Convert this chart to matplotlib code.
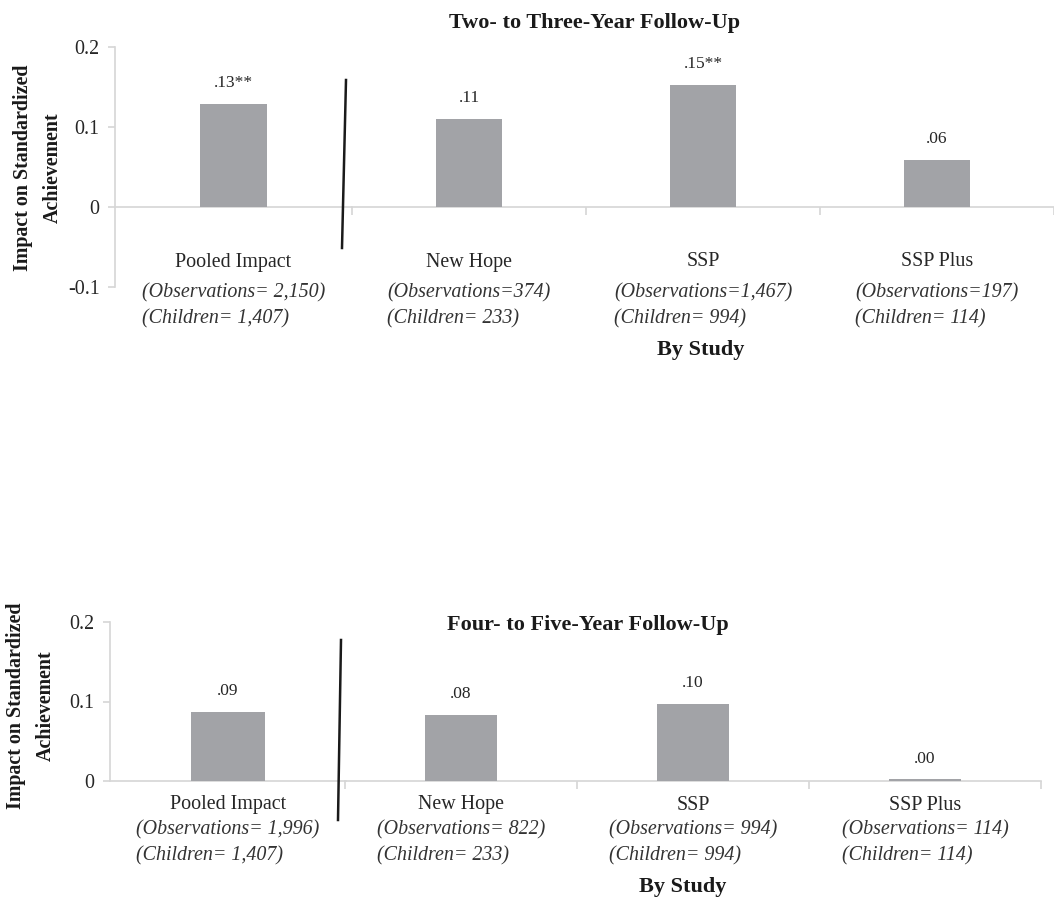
import matplotlib
matplotlib.use("Agg")
import matplotlib.pyplot as plt
from matplotlib.lines import Line2D
from matplotlib.transforms import blended_transform_factory

plt.rcParams['font.family'] = ['Liberation Serif', 'DejaVu Serif']
plt.rcParams['axes.unicode_minus'] = False

# data
categories = ["Pooled Impact", "New Hope", "SSP", "SSP Plus"]

top_values = [0.129, 0.110, 0.153, 0.059]
top_labels = [".13**", ".11", ".15**", ".06"]
top_obs = ["(Observations= 2,150)", "(Observations=374)", "(Observations=1,467)", "(Observations=197)"]
top_children = ["(Children= 1,407)", "(Children= 233)", "(Children= 994)", "(Children= 114)"]

bottom_values = [0.087, 0.083, 0.097, 0.002]
bottom_labels = [".09", ".08", ".10", ".00"]
bottom_obs = ["(Observations= 1,996)", "(Observations= 822)", "(Observations= 994)", "(Observations= 114)"]
bottom_children = ["(Children= 1,407)", "(Children= 233)", "(Children= 994)", "(Children= 114)"]

top_yticks = [-0.1, 0, 0.1, 0.2]
top_yticklabels = ["-0.1", "0", "0.1", "0.2"]
bottom_yticks = [0, 0.1, 0.2]
bottom_yticklabels = ["0", "0.1", "0.2"]

W, H = 1054, 899
BAR = "#a2a3a7"
AXC = "#d6d6d6"
TXT = "#262626"

fig = plt.figure(figsize=(W / 100, H / 100), dpi=100)


def rect(x0, x1, y0, y1):
    # pixel box -> figure fraction
    return [x0 / W, 1 - y1 / H, (x1 - x0) / W, (y1 - y0) / H]


def draw_panel(box_left, box_right, ylim, yticks, yticklabels, values, labels,
               obs, children, bar_w, right_xmax, y_name, y_obs, title, title_xy,
               study_xy, ylabel_xy, divider):
    axl = fig.add_axes(box_left)
    axr = fig.add_axes(box_right)
    for ax in (axl, axr):
        ax.set_ylim(*ylim)
        for s in ("top", "right"):
            ax.spines[s].set_visible(False)
        ax.spines["bottom"].set_position(("data", 0))
        ax.spines["bottom"].set_color(AXC)
        ax.spines["bottom"].set_linewidth(1.2)
        ax.patch.set_alpha(0)
    axl.set_xlim(-0.5, 0.5)
    axr.set_xlim(-0.5, right_xmax)

    axl.spines["left"].set_color(AXC)
    axl.spines["left"].set_linewidth(1.2)
    axl.set_yticks(yticks)
    axl.set_yticklabels(yticklabels, fontsize=14.4, color=TXT)
    axl.tick_params(axis="y", length=5, color=AXC, width=1.2, pad=6)
    axl.set_xticks([])

    axr.spines["left"].set_visible(False)
    axr.set_yticks([])
    axr.set_xticks([-0.5, 0.5, 1.5, 2.5])
    axr.set_xticklabels([])
    axr.tick_params(axis="x", length=6, color=AXC, width=1.2, direction="out")

    # bars
    axl.bar([0], values[:1], width=bar_w, color=BAR, zorder=3)
    axr.bar(range(3), values[1:], width=bar_w, color=BAR, zorder=3)
    for i, (v, lab) in enumerate(zip(values, labels)):
        ax = axl if i == 0 else axr
        x = 0 if i == 0 else i - 1
        ax.annotate(lab, (x, v), xytext=(0, 15), textcoords="offset points",
                    ha="center", va="center", fontsize=12.5, color=TXT)

    # category labels
    for i in range(4):
        ax = axl if i == 0 else axr
        x = 0 if i == 0 else i - 1
        tr = blended_transform_factory(ax.transData, fig.transFigure)
        ax.text(x, 1 - y_name / H, categories[i], transform=tr, ha="center",
                va="center", fontsize=14.4, color=TXT, clip_on=False)
        ax.text(x, 1 - y_obs / H, obs[i] + "\n" + children[i], transform=tr,
                ha="center", va="center", multialignment="left", linespacing=1.45,
                fontsize=14.4, style="italic", color="#333333", clip_on=False)

    fig.text(title_xy[0] / W, 1 - title_xy[1] / H, title, ha="center", va="center",
             fontsize=16, fontweight="bold", color="#1a1a1a")
    fig.text(study_xy[0] / W, 1 - study_xy[1] / H, "By Study", ha="center", va="center",
             fontsize=16, fontweight="bold", color="#1a1a1a")
    fig.text(ylabel_xy[0] / W, 1 - ylabel_xy[1] / H, "Impact on Standardized\nAchievement",
             rotation=90, ha="center", va="center", multialignment="center",
             linespacing=1.6, fontsize=14.4, fontweight="bold", color="#1a1a1a")

    (xa, ya), (xb, yb) = divider
    fig.add_artist(Line2D([xa / W, xb / W], [1 - ya / H, 1 - yb / H],
                          transform=fig.transFigure, color="#1a1a1a", lw=1.8))


# top panel: two- to three-year
draw_panel(rect(115, 352, 47, 287), rect(352, 1054, 47, 287), (-0.1, 0.2),
           top_yticks, top_yticklabels, top_values, top_labels, top_obs, top_children,
           0.28, 2.5 - 9 / 237, 262, 306, "Two- to Three-Year Follow-Up", (595, 23),
           (701, 350), (38, 168), ((346, 80), (342, 248)))

# bottom panel: four- to five-year
draw_panel(rect(110, 346, 622, 781), rect(345, 1041, 622, 781), (0, 0.2),
           bottom_yticks, bottom_yticklabels, bottom_values, bottom_labels, bottom_obs,
           bottom_children, 0.31, 2.5, 805, 843, "Four- to Five-Year Follow-Up", (588, 625),
           (683, 887), (31, 706), ((341, 640), (338, 820)))

fig.savefig("out.png", dpi=100)
